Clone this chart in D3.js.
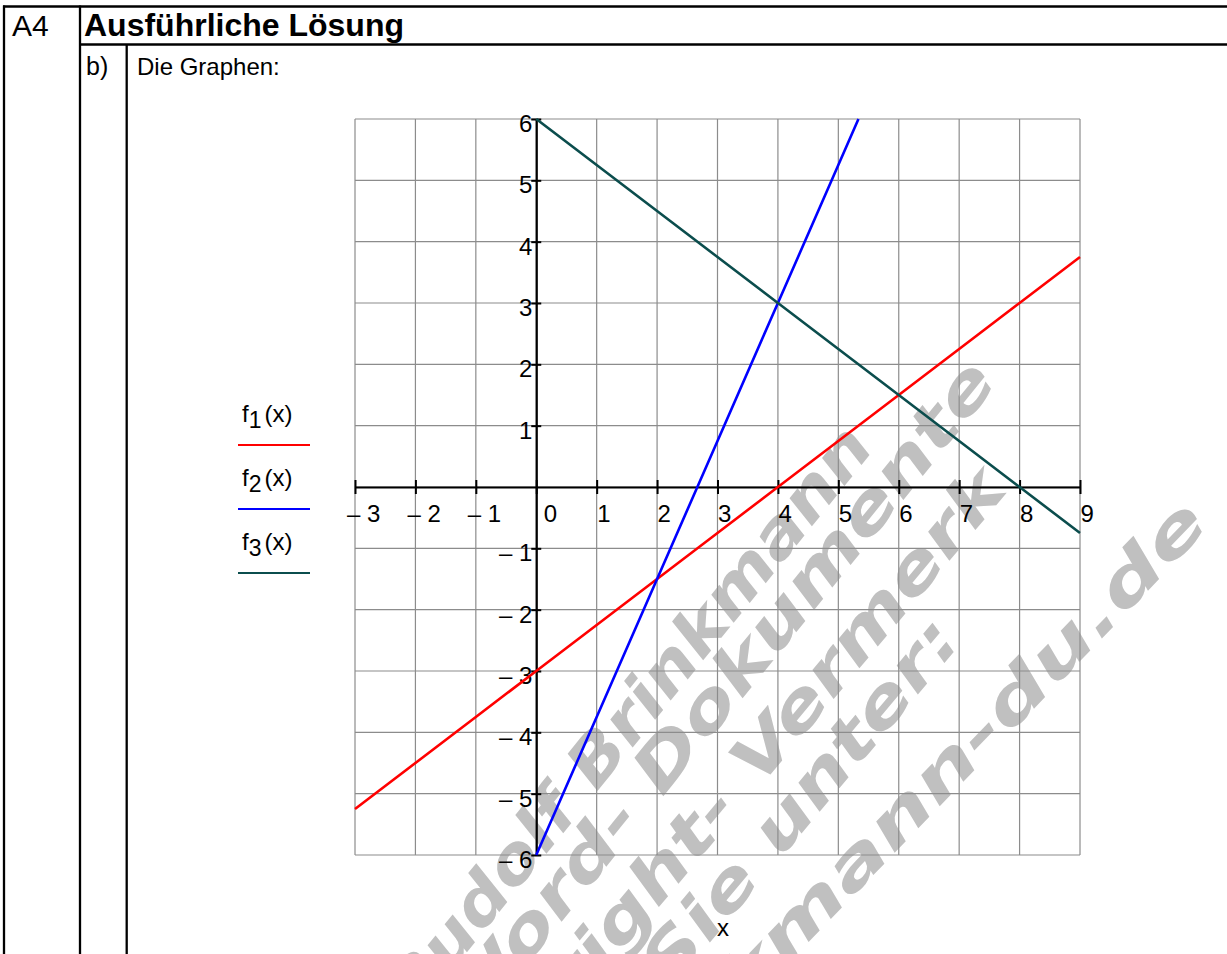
<!DOCTYPE html>
<html>
<head>
<meta charset="utf-8">
<script src="https://cdn.jsdelivr.net/npm/d3@7"></script>
<style>
  html, body { margin: 0; padding: 0; background: #fff; }
  svg { display: block; }
</style>
</head>
<body>
<svg id="chart" width="1227" height="954"></svg>
<script>
// ---- data ----
const xTicks = [-3, -2, -1, 0, 1, 2, 3, 4, 5, 6, 7, 8, 9];
const yTicks = [-6, -5, -4, -3, -2, -1, 0, 1, 2, 3, 4, 5, 6];

// f1(x): red line through (0,-3) and (4,0)
const f1X = [-3, -2, -1, 0, 1, 2, 3, 4, 5, 6, 7, 8, 9];
const f1Y = [-5.25, -4.5, -3.75, -3, -2.25, -1.5, -0.75, 0, 0.75, 1.5, 2.25, 3, 3.75];

// f2(x): blue line through (0,-6) and (4,3)
const f2X = [0, 1, 2, 3, 4, 5, 5.333];
const f2Y = [-6, -3.75, -1.5, 0.75, 3, 5.25, 6];

// f3(x): dark green line through (0,6) and (8,0)
const f3X = [0, 1, 2, 3, 4, 5, 6, 7, 8, 9];
const f3Y = [6, 5.25, 4.5, 3.75, 3, 2.25, 1.5, 0.75, 0, -0.75];

const seriesIndex = ["1", "2", "3"];
const seriesColor = ["#ff0000", "#0000ff", "#0b4d4d"];

const headerCode = "A4";
const headerTitle = "Ausführliche Lösung";
const partLabel = "b)";
const partText = "Die Graphen:";
const xAxisTitle = "x";

// background imprint, one entry per line
const imprintLines = [
  "Rudolf Brinkmann",
  "Word- Dokumente",
  "Copyright- Vermerk",
  "finden Sie unter:",
  "www.brinkmann-du.de"
];

// ---- layout ----
const svg = d3.select("#chart");
const W = 1227, H = 954;
const plot = { left: 355, right: 1080, top: 119, bottom: 855 };
const font = "'Liberation Sans', Arial, sans-serif";

const x = d3.scaleLinear().domain([-3, 9]).range([plot.left, plot.right]);
const y = d3.scaleLinear().domain([-6, 6]).range([plot.bottom, plot.top]);

// ---- imprint layer (rotated grey text) ----
const imprint = svg.append("g").attr("class", "imprint");
const imprintPlacement = [
  { x: 416, y: 1015, len: 730, rot: -51 },
  { x: 470, y: 1035, len: 840, rot: -51 },
  { x: 430, y: 1180, len: 900, rot: -50 },
  { x: 462, y: 1238, len: 780, rot: -50 },
  { x: 405, y: 1360, len: 1160, rot: -46 }
];
imprint.selectAll("text")
  .data(imprintLines)
  .join("text")
  .attr("transform", (d, i) => `translate(${imprintPlacement[i].x},${imprintPlacement[i].y}) rotate(${imprintPlacement[i].rot})`)
  .attr("textLength", (d, i) => imprintPlacement[i].len)
  .attr("lengthAdjust", "spacingAndGlyphs")
  .attr("font-family", "'DejaVu Sans', sans-serif")
  .attr("font-weight", "bold")
  .attr("font-style", "oblique")
  .attr("font-size", 64)
  .attr("fill", "#c0c0c0")
  .text(d => d);

// ---- table frame ----
const frame = svg.append("g").attr("stroke", "#000").attr("stroke-width", 2.3);
frame.append("line").attr("x1", 3).attr("x2", W).attr("y1", 6.5).attr("y2", 6.5);
frame.append("line").attr("x1", 80).attr("x2", W).attr("y1", 44.5).attr("y2", 44.5);
frame.append("line").attr("x1", 4).attr("x2", 4).attr("y1", 5.5).attr("y2", H);
frame.append("line").attr("x1", 80).attr("x2", 80).attr("y1", 5.5).attr("y2", H);
frame.append("line").attr("x1", 126.7).attr("x2", 126.7).attr("y1", 44.5).attr("y2", H);

svg.append("text").attr("x", 12).attr("y", 36).attr("font-family", font).attr("font-size", 30).text(headerCode);
svg.append("text").attr("x", 84).attr("y", 36).attr("font-family", font).attr("font-size", 32).attr("font-weight", "bold").text(headerTitle);
svg.append("text").attr("x", 86).attr("y", 75).attr("font-family", font).attr("font-size", 25).text(partLabel);
svg.append("text").attr("x", 137).attr("y", 75).attr("font-family", font).attr("font-size", 24).text(partText);

// ---- grid ----
const grid = svg.append("g").attr("stroke", "#8c8c8c").attr("stroke-width", 1.2);
grid.selectAll(".gx").data(xTicks).join("line")
  .attr("x1", d => x(d)).attr("x2", d => x(d))
  .attr("y1", plot.top).attr("y2", plot.bottom);
grid.selectAll(".gy").data(yTicks).join("line")
  .attr("y1", d => y(d)).attr("y2", d => y(d))
  .attr("x1", plot.left).attr("x2", plot.right);

// ---- axes through the origin ----
const fmt = d => d < 0 ? "\u2013 " + Math.abs(d) : String(d);

const xAxis = svg.append("g")
  .attr("transform", `translate(0,${y(0)})`)
  .call(d3.axisBottom(x).tickValues(xTicks).tickFormat(fmt).tickSizeOuter(0));
xAxis.select(".domain").attr("stroke", "#000").attr("stroke-width", 2.2);
xAxis.selectAll(".tick line").attr("y1", -7).attr("y2", 7).attr("stroke", "#000").attr("stroke-width", 2);
xAxis.selectAll(".tick text")
  .attr("font-family", font).attr("font-size", 24).attr("fill", "#000")
  .attr("text-anchor", "start")
  .attr("dy", null)
  .attr("y", 35)
  .attr("x", d => d < 0 ? -8.5 : (d === 0 ? 7 : 0));
xAxis.attr("font-family", null).attr("font-size", null);

const yAxis = svg.append("g")
  .attr("transform", `translate(${x(0)},0)`)
  .call(d3.axisLeft(y).tickValues(yTicks.filter(v => v !== 0)).tickFormat(fmt).tickSizeOuter(0));
yAxis.select(".domain").attr("stroke", "#000").attr("stroke-width", 2.2);
yAxis.selectAll(".tick line").attr("x1", -5).attr("x2", 5).attr("stroke", "#000").attr("stroke-width", 2);
yAxis.selectAll(".tick text")
  .attr("font-family", font).attr("font-size", 24).attr("fill", "#000")
  .attr("text-anchor", "end")
  .attr("dy", null)
  .attr("y", 12.5)
  .attr("x", -4);
yAxis.attr("font-family", null).attr("font-size", null);

// ---- function graphs ----
svg.append("clipPath").attr("id", "plot-clip")
  .append("rect")
  .attr("x", plot.left - 2).attr("y", plot.top - 1)
  .attr("width", plot.right - plot.left + 4).attr("height", plot.bottom - plot.top + 2);

const series = [
  { xs: f1X, ys: f1Y },
  { xs: f2X, ys: f2Y },
  { xs: f3X, ys: f3Y }
];
const line = d3.line().x(d => x(d[0])).y(d => y(d[1]));
svg.append("g").attr("clip-path", "url(#plot-clip)")
  .selectAll("path").data(series).join("path")
  .attr("d", s => line(d3.zip(s.xs, s.ys)))
  .attr("fill", "none")
  .attr("stroke", (s, i) => seriesColor[i])
  .attr("stroke-width", 2.6);

// ---- legend ----
const legend = svg.append("g").attr("font-family", font).attr("font-size", 24);
seriesIndex.forEach((k, i) => {
  const base = 422 + i * 64;
  const t = legend.append("text").attr("x", 242).attr("y", base);
  t.append("tspan").text("f");
  t.append("tspan").attr("dy", 6).attr("font-size", 23).text(k);
  t.append("tspan").attr("dy", -6).attr("dx", 3).text("(x)");
  legend.append("line")
    .attr("x1", 238).attr("x2", 310)
    .attr("y1", base + 23).attr("y2", base + 23)
    .attr("stroke", seriesColor[i]).attr("stroke-width", 2);
});

// ---- x axis title ----
svg.append("text")
  .attr("x", 723).attr("y", 936)
  .attr("text-anchor", "middle")
  .attr("font-family", font).attr("font-size", 24)
  .text(xAxisTitle);
</script>
</body>
</html>
